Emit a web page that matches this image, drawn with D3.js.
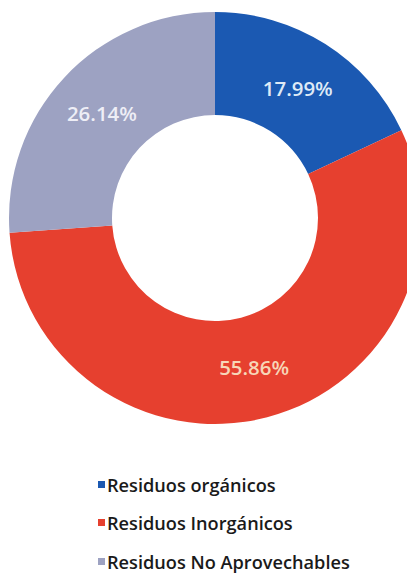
<!DOCTYPE html>
<html>
<head>
<meta charset="utf-8">
<script src="https://cdn.jsdelivr.net/npm/d3@7"></script>
<style>
  html, body { margin: 0; padding: 0; background: #ffffff; }
  svg { display: block; }
</style>
</head>
<body>
<svg id="chart" width="407" height="573"></svg>
<script>
const categories = ["Residuos orgánicos", "Residuos Inorgánicos", "Residuos No Aprovechables"];
const values = [17.99, 55.86, 26.14];
const valueLabels = ["17.99%", "55.86%", "26.14%"];
const colors = ["#1b59b2", "#e6402f", "#9da2c2"];
const labelColors = ["#dfeaf6", "#f7d6b8", "#eeeef6"];

const svg = d3.select("#chart");
const cx = 215, cy = 218, outerR = 206, innerR = 103;

const pie = d3.pie().sort(null).value(d => d)(values);
const arc = d3.arc().innerRadius(innerR).outerRadius(outerR);

const g = svg.append("g").attr("transform", `translate(${cx},${cy})`);
g.selectAll("path.slice")
  .data(pie)
  .join("path")
  .attr("class", "slice")
  .attr("d", arc)
  .attr("fill", (d, i) => colors[i]);

const vals = g.selectAll("text.val")
  .data(pie)
  .join("text")
  .attr("class", "val")
  .attr("transform", d => `translate(${arc.centroid(d)})`)
  .attr("text-anchor", "middle")
  .attr("dominant-baseline", "central")
  .attr("font-family", "'Open Sans', sans-serif")
  .attr("font-weight", 600)
  .attr("font-size", 18)
  .attr("fill", (d, i) => labelColors[i])
  .text((d, i) => valueLabels[i]);
// fit label width (~70px like reference)
{
  const w = vals.nodes()[0].getComputedTextLength();
  vals.attr("font-size", 18 * 70 / w);
}

const legend = svg.append("g");
const rowY = [485, 523, 562];
const item = legend.selectAll("g.item")
  .data(categories)
  .join("g")
  .attr("class", "item")
  .attr("transform", (d, i) => `translate(98,${rowY[i]})`);
item.append("rect")
  .attr("x", 0).attr("y", -4)
  .attr("width", 7).attr("height", 7)
  .attr("fill", (d, i) => colors[i]);
const lt = item.append("text")
  .attr("x", 9)
  .attr("dominant-baseline", "central")
  .attr("font-family", "'Open Sans', sans-serif")
  .attr("font-weight", 600)
  .attr("font-size", 17)
  .attr("fill", "#1a1a1a")
  .text(d => d);
{
  const w = lt.nodes()[2].getComputedTextLength();
  lt.attr("font-size", 17 * 243 / w);
}
</script>
</body>
</html>
